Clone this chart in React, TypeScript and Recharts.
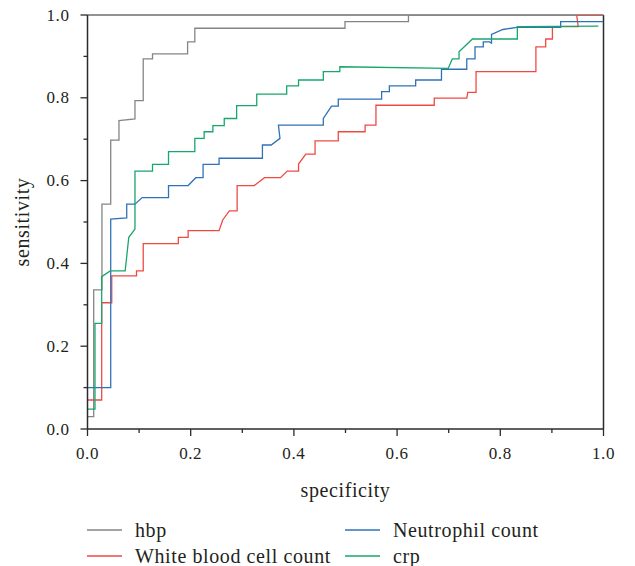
import React from 'react';
import { LineChart, Line, XAxis, YAxis, ReferenceLine, Legend } from 'recharts';

const axisTicks = [0, 0.1, 0.2, 0.3, 0.4, 0.5, 0.6, 0.7, 0.8, 0.9, 1.0];

const hbpSpec = [0, 0.012, 0.012, 0.028, 0.028, 0.045, 0.045, 0.061, 0.061, 0.092, 0.092, 0.108, 0.108, 0.126, 0.126, 0.194, 0.194, 0.208, 0.208, 0.499, 0.499, 0.622, 0.622, 1.0];
const hbpSens = [0.03, 0.03, 0.336, 0.336, 0.543, 0.543, 0.698, 0.698, 0.745, 0.749, 0.793, 0.793, 0.894, 0.894, 0.906, 0.906, 0.935, 0.935, 0.968, 0.968, 0.984, 0.984, 1.0, 1.0];

const wbcSpec = [0, 0.0275, 0.0275, 0.047, 0.047, 0.095, 0.095, 0.108, 0.108, 0.176, 0.176, 0.195, 0.195, 0.255, 0.262, 0.275, 0.29, 0.29, 0.323, 0.343, 0.374, 0.387, 0.409, 0.409, 0.423, 0.441, 0.441, 0.486, 0.486, 0.538, 0.538, 0.559, 0.559, 0.672, 0.672, 0.735, 0.737, 0.753, 0.753, 0.869, 0.869, 0.888, 0.888, 0.901, 0.901, 0.951, 0.948, 1.0];
const wbcSens = [0.07, 0.07, 0.305, 0.305, 0.37, 0.37, 0.382, 0.382, 0.448, 0.448, 0.463, 0.463, 0.479, 0.479, 0.505, 0.527, 0.527, 0.588, 0.588, 0.607, 0.607, 0.623, 0.623, 0.64, 0.664, 0.664, 0.696, 0.696, 0.718, 0.718, 0.734, 0.734, 0.782, 0.782, 0.799, 0.799, 0.813, 0.813, 0.863, 0.863, 0.923, 0.923, 0.942, 0.942, 0.972, 0.972, 1.0, 1.0];

const neuSpec = [0, 0.045, 0.045, 0.076, 0.076, 0.092, 0.106, 0.157, 0.157, 0.195, 0.21, 0.224, 0.224, 0.255, 0.255, 0.339, 0.339, 0.356, 0.373, 0.37, 0.457, 0.457, 0.473, 0.486, 0.486, 0.57, 0.57, 0.585, 0.585, 0.636, 0.636, 0.686, 0.686, 0.735, 0.735, 0.751, 0.751, 0.767, 0.767, 0.779, 0.783, 0.783, 0.805, 0.832, 0.917, 0.917, 1.0];
const neuSens = [0.1, 0.1, 0.507, 0.51, 0.543, 0.543, 0.559, 0.559, 0.588, 0.588, 0.607, 0.607, 0.639, 0.639, 0.654, 0.654, 0.686, 0.686, 0.702, 0.734, 0.734, 0.75, 0.78, 0.78, 0.797, 0.797, 0.815, 0.815, 0.829, 0.829, 0.843, 0.843, 0.869, 0.869, 0.894, 0.894, 0.923, 0.923, 0.935, 0.935, 0.932, 0.953, 0.965, 0.97, 0.97, 0.984, 0.984];

const crpSpec = [0, 0.0145, 0.0145, 0.0275, 0.0275, 0.044, 0.073, 0.08, 0.092, 0.092, 0.126, 0.126, 0.157, 0.157, 0.208, 0.208, 0.226, 0.226, 0.243, 0.243, 0.265, 0.265, 0.289, 0.289, 0.328, 0.328, 0.386, 0.386, 0.409, 0.409, 0.457, 0.457, 0.489, 0.489, 0.699, 0.707, 0.72, 0.72, 0.746, 0.833, 0.833, 0.99];
const crpSens = [0.048, 0.048, 0.255, 0.255, 0.368, 0.382, 0.382, 0.463, 0.483, 0.623, 0.623, 0.639, 0.639, 0.67, 0.67, 0.702, 0.702, 0.718, 0.718, 0.733, 0.733, 0.75, 0.75, 0.781, 0.781, 0.809, 0.809, 0.829, 0.829, 0.843, 0.843, 0.863, 0.863, 0.875, 0.871, 0.894, 0.894, 0.911, 0.942, 0.942, 0.972, 0.973];

const legendOrder = ['hbp', 'White blood cell count', 'Neutrophil count', 'crp'];

const zip = (xs: number[], ys: number[]) => xs.map((x, i) => ({ x, y: ys[i] }));

const hbpData = zip(hbpSpec, hbpSens);
const wbcData = zip(wbcSpec, wbcSens);
const neuData = zip(neuSpec, neuSens);
const crpData = zip(crpSpec, crpSens);

const FONT = 'Liberation Serif';
const TEXT = '#231f20';
const AXIS = '#2b2b2b';

const isMajor = (v: number) => Math.round(v * 10) % 2 === 0;

const XTick = (props: any) => {
  const { x, y, payload } = props;
  const major = isMajor(payload.value);
  return (
    <g>
      <line x1={x} x2={x} y1={y} y2={y + (major ? 7 : 4)} stroke={AXIS} strokeWidth={1.3} />
      {major && (
        <text x={x} y={y + 29.5} textAnchor="middle" fontFamily={FONT} fontSize={17} letterSpacing={0.6} fill={TEXT}>
          {payload.value.toFixed(1)}
        </text>
      )}
    </g>
  );
};

const YTick = (props: any) => {
  const { x, y, payload } = props;
  const major = isMajor(payload.value);
  return (
    <g>
      <line x1={x - (major ? 7 : 4)} x2={x} y1={y} y2={y} stroke={AXIS} strokeWidth={1.3} />
      {major && (
        <text x={x - 18} y={y + 5.5} textAnchor="end" fontFamily={FONT} fontSize={17} letterSpacing={0.6} fill={TEXT}>
          {payload.value.toFixed(1)}
        </text>
      )}
    </g>
  );
};

const LegendContent = (props: any) => {
  const { payload } = props;
  const colX = [87, 345];
  const rowY = [20, 46];
  return (
    <svg width={635} height={60}>
      {(payload || []).map((entry: any) => {
        const i = legendOrder.indexOf(entry.value);
        const cx = colX[Math.floor(i / 2)];
        const cy = rowY[i % 2];
        return (
          <g key={entry.value}>
            <line x1={cx} x2={cx + 35} y1={cy} y2={cy} stroke={entry.color} strokeWidth={1.3} />
            <text x={cx + 48} y={cy + 6.5} fontFamily={FONT} fontSize={20} letterSpacing={0.6} fill={TEXT}>
              {entry.value}
            </text>
          </g>
        );
      })}
    </svg>
  );
};

export default function App() {
  return (
    <div style={{ position: 'absolute', left: 0, top: 0, background: '#fff' }}>
      <LineChart width={635} height={566} margin={{ top: 15, right: 31.5, left: 27.5, bottom: 97 }}>
        <XAxis
          type="number"
          dataKey="x"
          domain={[0, 1]}
          ticks={axisTicks}
          allowDataOverflow
          height={40}
          tickSize={0}
          tickMargin={0}
          tickLine={false}
          tick={<XTick />}
          axisLine={{ stroke: AXIS, strokeWidth: 1.5 }}
          label={{ value: 'specificity', position: 'insideBottom', offset: -28, fill: TEXT, fontFamily: FONT, fontSize: 20, letterSpacing: 0.6 }}
        />
        <YAxis
          type="number"
          dataKey="y"
          domain={[0, 1]}
          ticks={axisTicks}
          allowDataOverflow
          width={60}
          tickSize={0}
          tickMargin={0}
          tickLine={false}
          tick={<YTick />}
          axisLine={{ stroke: AXIS, strokeWidth: 1.5 }}
          label={{ value: 'sensitivity', angle: -90, position: 'insideLeft', offset: -6, fill: TEXT, fontFamily: FONT, fontSize: 20, letterSpacing: 0.6, style: { textAnchor: 'middle' } }}
        />
        <ReferenceLine y={1} stroke="#6e6e6e" strokeWidth={1.5} />
        <ReferenceLine x={1} stroke={AXIS} strokeWidth={1.5} />
        <Line data={hbpData} dataKey="y" name="hbp" type="linear" stroke="#858585" strokeWidth={1.3} dot={false} activeDot={false} isAnimationActive={false} />
        <Line data={wbcData} dataKey="y" name="White blood cell count" type="linear" stroke="#ee4a44" strokeWidth={1.3} dot={false} activeDot={false} isAnimationActive={false} />
        <Line data={neuData} dataKey="y" name="Neutrophil count" type="linear" stroke="#2f72b8" strokeWidth={1.3} dot={false} activeDot={false} isAnimationActive={false} />
        <Line data={crpData} dataKey="y" name="crp" type="linear" stroke="#17a66b" strokeWidth={1.3} dot={false} activeDot={false} isAnimationActive={false} />
        <Legend
          layout="horizontal"
          verticalAlign="middle"
          align="center"
          content={<LegendContent />}
          wrapperStyle={{ position: 'absolute', top: 510, left: 0, width: 635, height: 60 }}
        />
      </LineChart>
    </div>
  );
}
